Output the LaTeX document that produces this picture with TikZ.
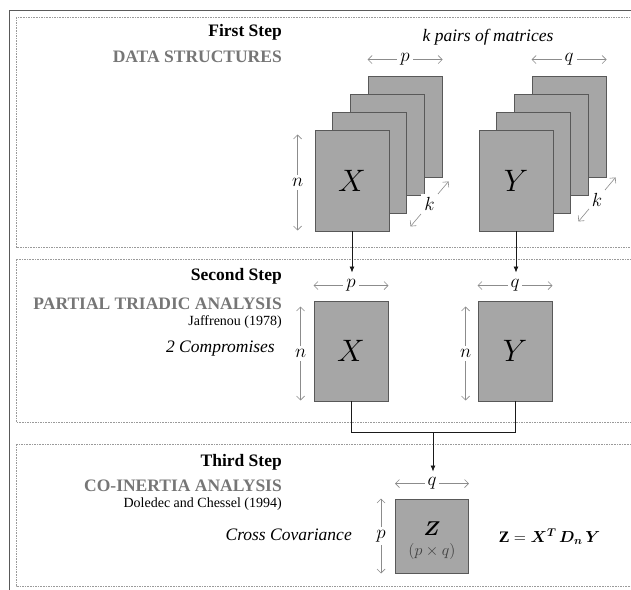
\RequirePackage{fix-cm}
\documentclass[tikz,border=0pt]{standalone}
\usepackage{fontspec}
\setmainfont{Liberation Serif}
\usepackage{amsmath, bm}
\usetikzlibrary{arrows.meta, calc}
\definecolor{mat-fill}{HTML}{A6A6A6}
\definecolor{mat-border}{HTML}{595959}
\definecolor{dim-line}{HTML}{8C8C8C}
\definecolor{title-gray}{HTML}{767676}
\definecolor{frame-line}{HTML}{595959}
\definecolor{dash-line}{HTML}{9A9A9A}
\definecolor{flow}{HTML}{1A1A1A}
\definecolor{sub-text}{HTML}{404040}
\tikzset{
  mat-box/.style={
    rectangle, draw=mat-border, fill=mat-fill, line width=0.9pt,
    minimum width=74pt, minimum height=101pt, inner sep=0pt,
    font=\fontsize{31}{31}\selectfont
  },
  step-frame/.style={draw=dash-line, line width=0.7pt, dash pattern=on 1.6pt off 1pt},
  outer-frame/.style={draw=frame-line, line width=0.9pt},
  step-title/.style={anchor=east, inner sep=0pt, font=\fontsize{17.5}{18}\selectfont\bfseries},
  step-name/.style={anchor=east, inner sep=0pt, text=title-gray, font=\fontsize{17.5}{18}\selectfont\bfseries},
  step-ref/.style={anchor=east, inner sep=0pt, font=\fontsize{14}{15}\selectfont},
  step-note/.style={inner sep=0pt, font=\fontsize{17.5}{18}\selectfont\itshape},
  dim-arrow/.style={
    {Straight Barb[length=4pt,width=8pt]}-{Straight Barb[length=4pt,width=8pt]},
    draw=dim-line, line width=0.6pt
  },
  dim-label/.style={fill=white, inner sep=3pt, font=\fontsize{19}{19}\selectfont},
  flow-edge/.style={-{Latex[length=6pt,width=5pt]}, draw=flow, line width=0.8pt},
  flow-line/.style={draw=flow, line width=0.8pt}
}
\begin{document}
\begin{tikzpicture}[x=1pt, y=-1pt]
  \clip (0,0) rectangle (631,589);
  \fill[white] (0,0) rectangle (631,589);

  % Outer frame and the three step panels
  \draw[outer-frame] (9,600) -- (9,10) -- (640,10);
  \draw[step-frame] (16,17) rectangle (660,247);
  \draw[step-frame] (16,259) rectangle (660,422);
  \draw[step-frame] (16,444) rectangle (660,586);

  % First step: k pairs of matrices
  \node[step-title] (title1) at (282,32) {First Step};
  \node[step-name]  (name1)  at (282,57) {DATA STRUCTURES};
  \node[step-note]  (pairs)  at (488,37) {k pairs of matrices};

  \coordinate (X1c) at (352,180.5);
  \coordinate (Y1c) at (516,180.5);
  \foreach \i in {3,2,1} {
    \node[mat-box] (X1-\i) at ($(X1c)+(17.7*\i,-18*\i)$) {};
    \node[mat-box] (Y1-\i) at ($(Y1c)+(17.7*\i,-18*\i)$) {};
  }
  \node[mat-box] (X1) at (X1c) {$X$};
  \node[mat-box] (Y1) at (Y1c) {$Y$};

  \draw[dim-arrow] ($(X1-3.north west)+(0,-16)$) -- node[dim-label] {$p$} ($(X1-3.north east)+(0,-16)$);
  \draw[dim-arrow] ($(Y1-3.north west)+(0,-16)$) -- node[dim-label] {$q$} ($(Y1-3.north east)+(0,-16)$);
  \draw[dim-arrow] ($(X1.north west)+(-17,5)$) -- node[dim-label] {$n$} ($(X1.south west)+(-17,-1)$);
  \draw[dim-arrow] ($(X1.south east)+(21,-5)$) -- node[dim-label] {$k$} ($(X1-3.south east)+(6,4)$);
  \draw[dim-arrow] ($(Y1.south east)+(25,-10)$) -- node[dim-label] {$k$} ($(Y1-3.south east)+(9,0)$);

  % Second step: partial triadic analysis
  \node[step-title] (title2) at (282,276) {Second Step};
  \node[step-name]  (name2)  at (282,304) {PARTIAL TRIADIC ANALYSIS};
  \node[step-ref]   (ref2)   at (282,322) {Jaffrenou (1978)};
  \node[step-note, anchor=east] (note2) at (275,349) {2 Compromises};

  \node[mat-box, minimum height=100pt] (X2) at (351,351) {$X$};
  \node[mat-box, minimum height=100pt] (Y2) at (515,351) {$Y$};

  \draw[dim-arrow] ($(X2.north west)+(0,-15)$) -- node[dim-label] {$p$} ($(X2.north east)+(0,-15)$);
  \draw[dim-arrow] ($(Y2.north west)+(0,-15)$) -- node[dim-label] {$q$} ($(Y2.north east)+(0,-15)$);
  \draw[dim-arrow] ($(X2.north west)+(-13,6)$) -- node[dim-label] {$n$} ($(X2.south west)+(-13,-1)$);
  \draw[dim-arrow] ($(Y2.north west)+(-12,6)$) -- node[dim-label] {$n$} ($(Y2.south west)+(-12,-1)$);

  % Step 1 -> step 2
  \coordinate (X2in) at ($(X2.north)+(0,-28)$);
  \coordinate (Y2in) at ($(Y2.north)+(0,-28)$);
  \draw[flow-edge] (X1.south) -- (X1.south |- X2in);
  \draw[flow-edge] (Y1.south) -- (Y1.south |- Y2in);

  % Third step: co-inertia analysis
  \node[step-title] (title3) at (282,462) {Third Step};
  \node[step-name]  (name3)  at (282,486) {CO-INERTIA ANALYSIS};
  \node[step-ref]   (ref3)   at (282,504) {Doledec and Chessel (1994)};
  \node[step-note, anchor=east] (note3) at (352,535) {Cross Covariance};

  \node[mat-box, minimum width=73pt, minimum height=74pt] (Z) at (432,536) {};
  \node[inner sep=0pt, font=\fontsize{20}{20}\selectfont] (Zname) at ($(Z.center)+(0,-7)$) {$\bm{Z}$};
  \node[inner sep=0pt, text=sub-text, font=\fontsize{16}{16}\selectfont] (Zdim) at ($(Z.center)+(0,15)$) {$(p\times q)$};
  \node[inner sep=0pt, font=\fontsize{16}{16}\selectfont] (formula) at (549.5,537)
    {$\mathbf{Z} = \bm{X}^{\bm{T}}\,\bm{D}_{\bm{n}}\,\bm{Y}$};

  \draw[dim-arrow] ($(Z.north west)+(0,-15)$) -- node[dim-label] {$q$} ($(Z.north east)+(0,-15)$);
  \draw[dim-arrow] ($(Z.north west)+(-14,0)$) -- node[dim-label] {$p$} ($(Z.south west)+(-14,0)$);

  % Step 2 -> step 3
  \coordinate (join) at ($(X2.south)!0.5!(Y2.south)+(0,31)$);
  \coordinate (Zin) at ($(Z.north)+(0,-27)$);
  \draw[flow-line] (X2.south) |- (join) -| (Y2.south);
  \draw[flow-edge] (join) -- (join |- Zin);
\end{tikzpicture}
\end{document}
